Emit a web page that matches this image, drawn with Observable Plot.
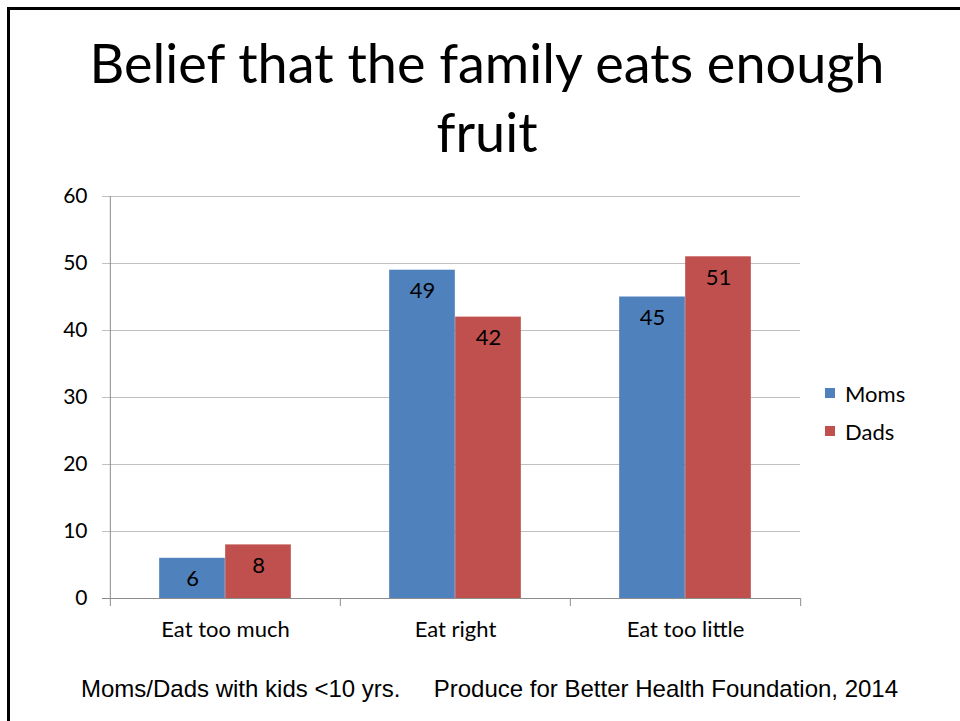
<!DOCTYPE html>
<html>
<head>
<meta charset="utf-8">
<script src="https://cdn.jsdelivr.net/npm/d3@7"></script>
<script src="https://cdn.jsdelivr.net/npm/@observablehq/plot@0.6"></script>
<style>
  html, body { margin: 0; padding: 0; background: #fff; }
  #page { position: relative; width: 960px; height: 721px; overflow: hidden; background: #fff; }
  #frame { position: absolute; left: 7px; top: 7px; width: 1000px; height: 800px; border: 3px solid #000; box-sizing: border-box; }
  #title { position: absolute; left: 0; top: 28px; width: 974px; text-align: center; font-family: Lato, sans-serif; font-size: 54px; line-height: 69px; color: #000; }
  #chart { position: absolute; left: 0; top: 180px; }
  #legend { position: absolute; left: 825px; top: 374px; font-family: Lato, sans-serif; font-size: 22px; color: #000; }
  .item { display: flex; align-items: center; height: 38px; }
  .sw { width: 10px; height: 10px; margin-right: 10px; }
  #caption { position: absolute; left: 81px; top: 675px; font-family: "Liberation Sans", Arial, sans-serif; font-size: 24px; color: #000; white-space: pre; }
</style>
</head>
<body>
<div id="page">
  <div id="frame"></div>
  <div id="title">Belief that the family eats enough<br>fruit</div>
  <div id="chart"></div>
  <div id="legend"></div>
  <div id="caption"></div>
</div>
<script>
const categories = ["Eat too much", "Eat right", "Eat too little"];
const series = ["Moms", "Dads"];
const momsValues = [6, 49, 45];
const dadsValues = [8, 42, 51];
const yTicks = [0, 10, 20, 30, 40, 50, 60];
const seriesColors = ["#4F81BD", "#C0504D"];
const captionText = "Moms/Dads with kids <10 yrs.     Produce for Better Health Foundation, 2014";

const W = 960, H = 470, mL = 109, mR = 160, mT = 16, mB = 52;
const band = (W - mL - mR) / categories.length;
const barW = 66;
const outer = (band - 2 * barW) / 2;

const moms = categories.map((c, i) => ({category: c, series: "Moms", value: momsValues[i]}));
const dads = categories.map((c, i) => ({category: c, series: "Dads", value: dadsValues[i]}));

const gridColor = "#c0c0c0";
const axisColor = "#8c8c8c";
const firstCat = () => categories[0];
const lastCat = () => categories[categories.length - 1];

const chart = Plot.plot({
  width: W, height: H,
  marginLeft: mL, marginRight: mR, marginTop: mT, marginBottom: mB,
  style: {fontFamily: "Lato, sans-serif", background: "transparent", overflow: "visible"},
  x: {type: "band", domain: categories, padding: 0, axis: null},
  y: {domain: [0, 60], axis: null},
  marks: [
    Plot.ruleY(yTicks.filter(d => d > 0), {y: d => d, x1: firstCat, x2: lastCat, stroke: gridColor, strokeWidth: 1,
      insetLeft: -8, insetRight: 0}),
    Plot.axisY({ticks: yTicks, tickSize: 0, tickPadding: 22, fontSize: 21, fill: "#000", label: null}),
    Plot.barY(moms, {x: "category", y: "value", fill: seriesColors[0], insetLeft: outer, insetRight: band - outer - barW}),
    Plot.barY(dads, {x: "category", y: "value", fill: seriesColors[1], insetLeft: outer + barW, insetRight: outer}),
    Plot.text(moms, {x: "category", y: "value", text: d => String(d.value), dx: -barW / 2, dy: 21, fontSize: 22, fill: "#000"}),
    Plot.text(dads, {x: "category", y: "value", text: d => String(d.value), dx: barW / 2, dy: 21, fontSize: 22, fill: "#000"}),
    Plot.ruleY([0], {y: d => d, x1: firstCat, x2: lastCat, stroke: axisColor, insetLeft: -8, insetRight: 0}),
    Plot.ruleX(categories, {x: d => d, dx: -band / 2, y1: -1.2, y2: (d, i) => i === 0 ? 60 : 0, stroke: axisColor}),
    Plot.ruleX(categories.slice(-1), {x: d => d, dx: band / 2, y1: -1.2, y2: 0, stroke: axisColor}),
    Plot.axisX({tickSize: 0, tickPadding: 23, fontSize: 22, fill: "#000", label: null})
  ]
});
document.getElementById("chart").appendChild(chart);

const legend = document.getElementById("legend");
series.forEach((s, i) => {
  const item = document.createElement("div");
  item.className = "item";
  const sw = document.createElement("div");
  sw.className = "sw";
  sw.style.background = seriesColors[i];
  const t = document.createElement("span");
  t.textContent = s;
  item.appendChild(sw); item.appendChild(t);
  legend.appendChild(item);
});
document.getElementById("caption").textContent = captionText;
</script>
</body>
</html>
